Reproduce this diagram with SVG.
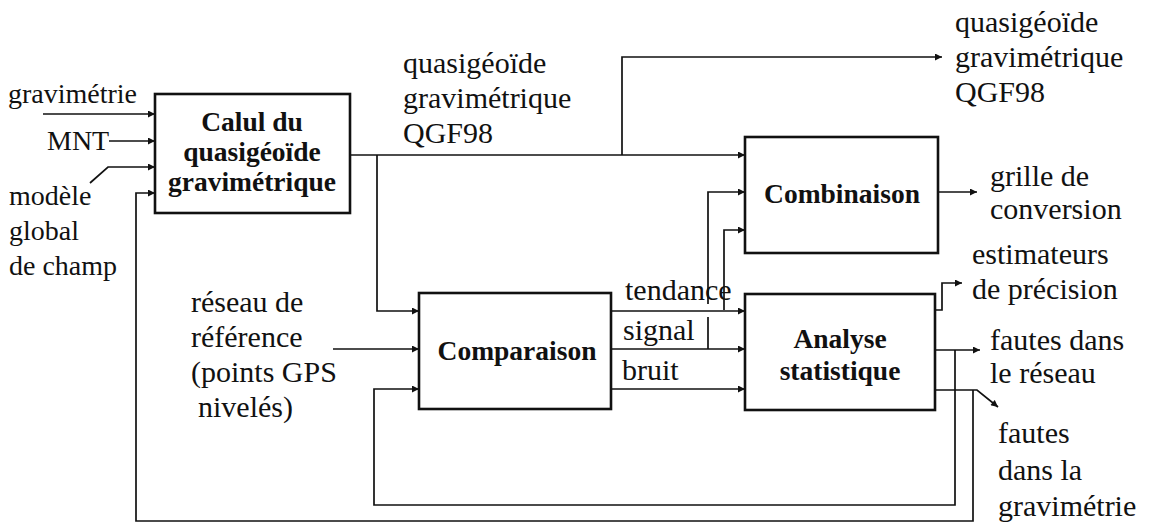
<svg xmlns="http://www.w3.org/2000/svg" width="1151" height="526" viewBox="0 0 1151 526">
  <defs>
    <marker id="ah" viewBox="0 0 10 10" refX="10" refY="5" markerWidth="9" markerHeight="7" markerUnits="userSpaceOnUse" orient="auto">
      <path d="M0,0 L10,5 L0,10 Z" fill="#111"/>
    </marker>
  </defs>
  <rect width="1151" height="526" fill="#fff"/>

  <!-- plain labels (inputs, outputs and flow names) -->
  <g id="labels" fill="#111" style="font-family:'Liberation Serif',serif;font-weight:500;font-size:30px">
    <text x="8" y="103" style="font-size:28px">gravimétrie</text>
    <text x="47" y="150" style="font-size:28px">MNT</text>
    <text x="9" y="205" style="font-size:28px">modèle</text>
    <text x="9" y="240" style="font-size:28px">global</text>
    <text x="9" y="275" style="font-size:28px">de champ</text>

    <text x="403" y="73">quasigéoïde</text>
    <text x="403" y="108">gravimétrique</text>
    <text x="403" y="143">QGF98</text>

    <text x="955" y="32">quasigéoïde</text>
    <text x="955" y="67">gravimétrique</text>
    <text x="955" y="102">QGF98</text>

    <text x="990" y="186">grille de</text>
    <text x="990" y="219">conversion</text>

    <text x="972" y="264">estimateurs</text>
    <text x="972" y="299">de précision</text>

    <text x="990" y="350">fautes dans</text>
    <text x="990" y="383">le réseau</text>

    <text x="998" y="443">fautes</text>
    <text x="998" y="480">dans la</text>
    <text x="998" y="516">gravimétrie</text>

    <text x="191" y="312">réseau de</text>
    <text x="191" y="347">référence</text>
    <text x="191" y="382">(points GPS</text>
    <text x="198" y="417">nivelés)</text>

    <text x="625" y="300">tendance</text>
    <text x="623" y="340">signal</text>
    <text x="622" y="380">bruit</text>
  </g>

  <!-- connectors -->
  <g id="connectors" fill="none" stroke="#111" stroke-width="1.7" marker-end="url(#ah)">
    <!-- inputs to the geoid computation -->
    <path d="M43,114 H155"/>
    <path d="M109,141 H155"/>
    <path d="M90,183 L108,167 H155"/>
    <!-- outer feedback from the statistical analysis -->
    <path d="M973,390 V521 H136 V193 H155"/>
    <!-- QGF98 output line -->
    <path d="M350,155 H745"/>
    <path d="M622,155 V57 H942"/>
    <path d="M377,155 V311 H419"/>
    <!-- reference network -->
    <path d="M333,349 H419"/>
    <!-- inner feedback -->
    <path d="M955,350 V505 H374 V389 H419"/>
    <!-- comparison outputs -->
    <path d="M611,311 H745"/>
    <path d="M611,349 H745"/>
    <path d="M611,389 H745"/>
    <!-- trend and signal into the combination -->
    <path d="M724,310 V230 H745"/>
    <path d="M708,349 V317 M708,304 V192 H745"/>
    <!-- outputs -->
    <path d="M938,192 H977"/>
    <path d="M935,310 H942 V283 H962"/>
    <path d="M935,350 H980"/>
    <path d="M935,390 H977 L998,407"/>
  </g>

  <g font-family="Liberation Serif" font-size="27.5" font-weight="bold" fill="#111" text-anchor="middle">
    <g id="calcul">
      <rect x="155" y="94" width="195" height="119" fill="#fff" stroke="#111" stroke-width="2.6"/>
      <text x="252" y="131">Calul du</text>
      <text x="252" y="161">quasigéoïde</text>
      <text x="252" y="191">gravimétrique</text>
    </g>

    <g id="combinaison">
      <rect x="745" y="137" width="193" height="116" fill="#fff" stroke="#111" stroke-width="2.6"/>
      <text x="842" y="203">Combinaison</text>
    </g>

    <g id="comparaison">
      <rect x="419" y="293" width="192" height="116" fill="#fff" stroke="#111" stroke-width="2.6"/>
      <text x="517" y="360">Comparaison</text>
    </g>

    <g id="analyse">
      <rect x="745" y="294" width="190" height="116" fill="#fff" stroke="#111" stroke-width="2.6"/>
      <text x="840" y="348">Analyse</text>
      <text x="840" y="380">statistique</text>
    </g>
  </g>
</svg>
